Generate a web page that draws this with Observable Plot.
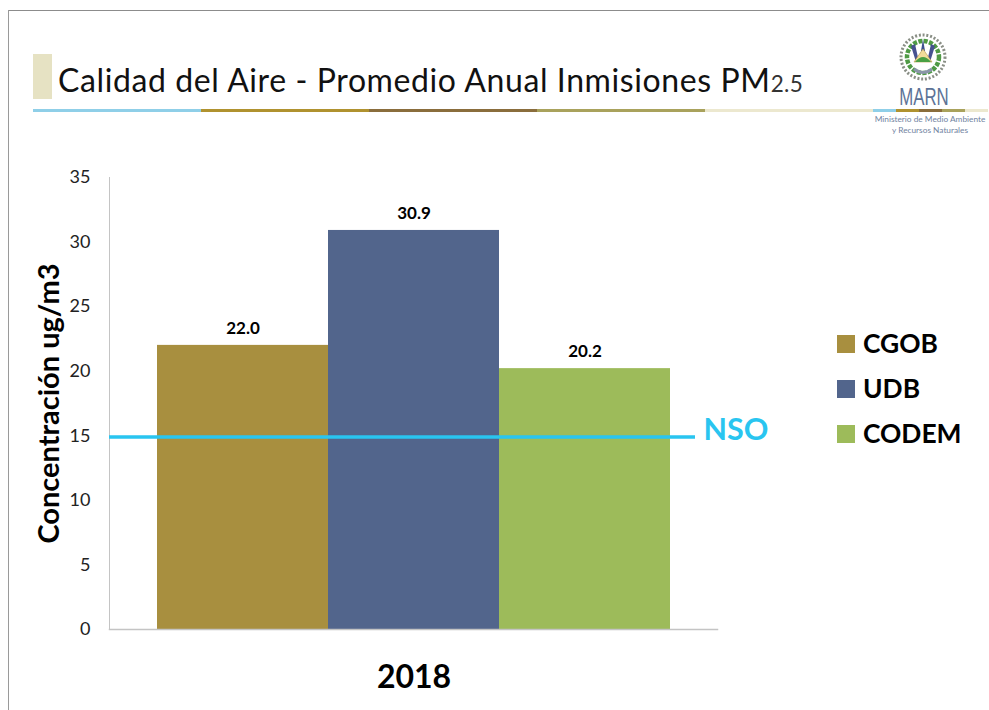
<!DOCTYPE html>
<html lang="es">
<head>
<meta charset="utf-8">
<script src="https://cdn.jsdelivr.net/npm/d3@7"></script>
<script src="https://cdn.jsdelivr.net/npm/@observablehq/plot@0.6"></script>
<style>
html,body{margin:0;padding:0;background:#fff;overflow:hidden}
#page{position:relative;width:989px;height:710px;overflow:hidden;font-family:Lato,"Open Sans",sans-serif}
#page svg{position:absolute;left:0;top:0}
.abs{position:absolute}
#frameT{left:9px;top:10px;width:980px;height:1px;background:#8c8c8c}
#frameL{left:8px;top:10px;width:1px;height:700px;background:#9a9a9a}
#swatch{left:33px;top:54px;width:19px;height:45px;background:#e6e2c3}
#title{left:58px;top:60px;font-size:32px;line-height:40px;color:#111;white-space:nowrap;letter-spacing:.6px}
#title small{font-size:22.5px;letter-spacing:.4px;color:#333}
.seg{height:3px;top:109px}
#marn{left:874px;width:100px;text-align:center;top:84px;font-family:"Liberation Sans Narrow","Liberation Sans",sans-serif;font-size:24px;line-height:26px;color:#5d7397;transform:scaleX(.7)}
#min{left:866px;width:128px;text-align:center;top:114px;font-size:8.3px;line-height:11px;color:#71839f}
.leg{left:837px;width:18px;height:18px}
.legt{left:863px;font-size:26.4px;line-height:32px;font-weight:700;color:#000;white-space:nowrap}
</style>
</head>
<body>
<div id="page">
  <div class="abs" id="frameT"></div>
  <div class="abs" id="frameL"></div>
  <div class="abs" id="swatch"></div>
  <div class="abs" id="title">Calidad del Aire - Promedio Anual Inmisiones PM<small>2.5</small></div>
  <div id="chart"></div>
  <div id="rules"></div>
  <svg class="abs" style="left:896px;top:30px" width="54" height="54" viewBox="-27 -27 54 54">
    <circle r="22" fill="none" stroke="#8a8f86" stroke-width="3" stroke-dasharray="2 1.8"/>
    <circle r="16" fill="none" stroke="#4f9a45" stroke-width="4.5" stroke-dasharray="4 1.4"/>
    <path d="M-12 -11L-7 5L-4 5L-8 -13ZM12 -11L7 5L4 5L8 -13Z" fill="#46518f"/>
    <path d="M0 -18L2 -6L-2 -6Z" fill="#3c4f8f"/>
    <path d="M-9 5L0 -8L9 5Z" fill="#f2dc9a" stroke="#b6973f" stroke-width=".6"/>
    <path d="M-8 5Q0 -5 8 5Z" fill="#4aa043"/>
    <path d="M-9 12Q0 19 9 12" fill="none" stroke="#8b96a8" stroke-width="3"/>
  </svg>
  <div class="abs" id="marn">MARN</div>
  <div class="abs" id="min">Ministerio de Medio Ambiente<br>y Recursos Naturales</div>
  <div id="legend"></div>
</div>
<script>
const categories = ["CGOB", "UDB", "CODEM"];
const values = [22.0, 30.9, 20.2];
const colors = ["#a88f3f", "#52658c", "#9dbb5a"];
const yTicks = [0, 5, 10, 15, 20, 25, 30, 35];
const year = "2018";
const nsoValue = 14.9;
const nsoLabel = "NSO";
const yLabel = "Concentración ug/m3";
const headerSegments = [
  {x: 33, w: 168, c: "#8fcfe8"}, {x: 201, w: 168, c: "#b0922f"}, {x: 369, w: 168, c: "#8a6d3c"},
  {x: 537, w: 168, c: "#a9a25c"}, {x: 705, w: 168, c: "#ece8cf"},
  {x: 873, w: 23, c: "#8fcfe8"}, {x: 896, w: 23, c: "#b0922f"}, {x: 919, w: 23, c: "#8a6d3c"},
  {x: 942, w: 23, c: "#a9a25c"}, {x: 965, w: 23, c: "#ece8cf"}
];
const rows = categories.map((name, i) => ({name, value: values[i]}));

const chart = Plot.plot({
  width: 989,
  height: 710,
  marginLeft: 109,
  marginRight: 272,
  marginTop: 177,
  marginBottom: 81,
  style: {background: "transparent", fontFamily: "Lato, 'Open Sans', sans-serif"},
  x: {domain: categories, range: [157, 670], padding: 0, axis: null},
  y: {domain: [0, 35], ticks: yTicks},
  color: {domain: categories, range: colors},
  marks: [
    Plot.barY(rows, {x: "name", y: "value", fill: "name", inset: 0}),
    Plot.frame({anchor: "left", stroke: "#c4c4c4"}),
    Plot.frame({anchor: "bottom", stroke: "#c4c4c4", strokeWidth: 1.5}),
    Plot.axisY({ticks: yTicks, tickSize: 0, tickPadding: 19, fontSize: 18, fill: "#222", label: null}),
    Plot.text([yLabel], {
      frameAnchor: "left", textAnchor: "middle", dx: -60, rotate: -90,
      fontSize: 29, fontWeight: 700, fill: "#000"
    }),
    Plot.text(rows, {
      x: "name", y: "value", text: d => d.value.toFixed(1), dy: -17,
      fontSize: 17, fontWeight: 700, fill: "#000"
    }),
    Plot.ruleY([nsoValue], {stroke: "#29c5f0", strokeWidth: 3.5, insetRight: 22}),
    Plot.text([nsoLabel], {
      y: () => nsoValue, frameAnchor: "right", textAnchor: "start", dx: -14, dy: -7,
      fontSize: 30.5, fontWeight: 700, fill: "#29c5f0"
    }),
    Plot.text([year], {
      x: () => categories[1], frameAnchor: "bottom", dy: 58,
      fontSize: 32, fontWeight: 700, fill: "#000"
    })
  ]
});
document.getElementById("chart").append(chart);

const rulesEl = document.getElementById("rules");
headerSegments.forEach(s => {
  const d = document.createElement("div");
  d.className = "abs seg";
  d.style.left = s.x + "px";
  d.style.width = s.w + "px";
  d.style.background = s.c;
  rulesEl.append(d);
});

const legendEl = document.getElementById("legend");
categories.forEach((name, i) => {
  const sw = document.createElement("div");
  sw.className = "abs leg";
  sw.style.top = (335 + i * 45) + "px";
  sw.style.background = colors[i];
  const t = document.createElement("div");
  t.className = "abs legt";
  t.style.top = (327 + i * 45) + "px";
  t.textContent = name;
  legendEl.append(sw, t);
});
</script>
</body>
</html>
